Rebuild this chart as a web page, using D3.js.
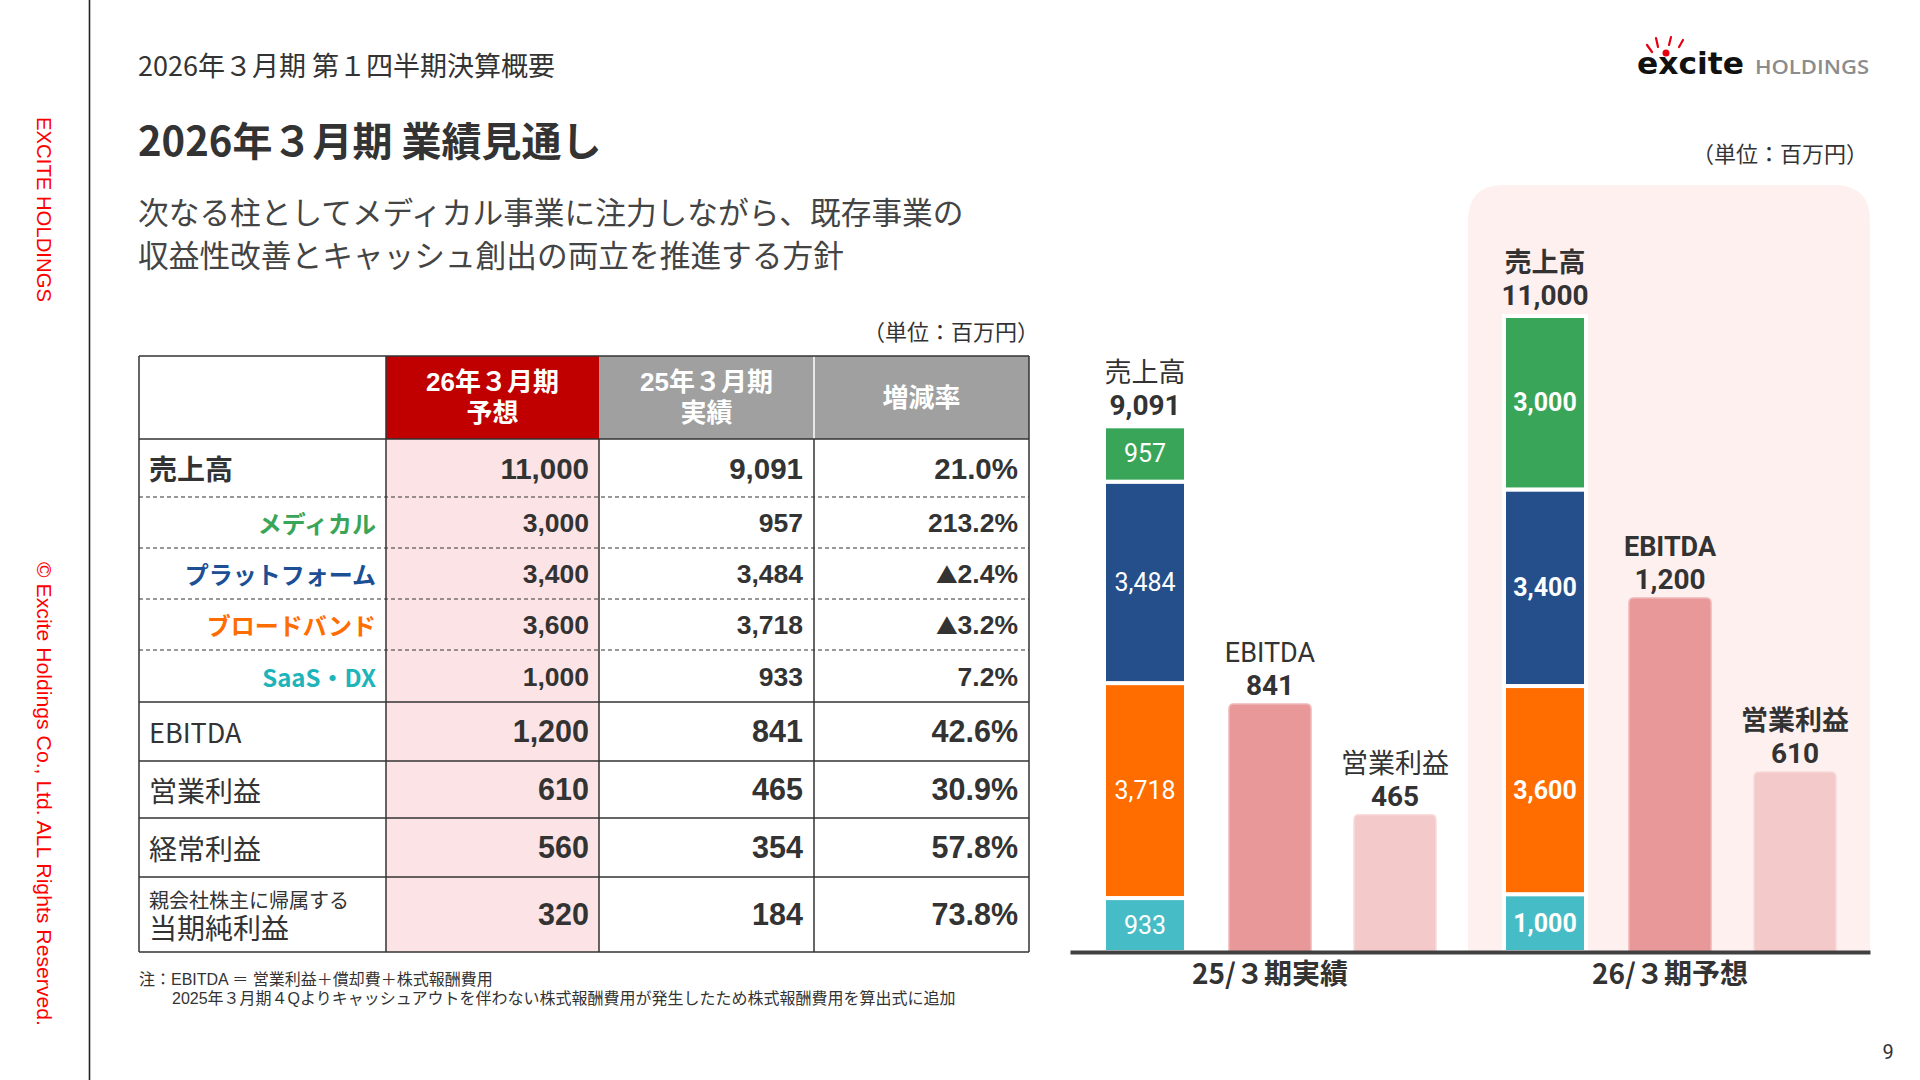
<!DOCTYPE html>
<html>
<head>
<meta charset="utf-8">
<script src="https://cdn.jsdelivr.net/npm/d3@7"></script>
<style>
  html, body { margin: 0; padding: 0; background: #ffffff; }
  svg { display: block; }
</style>
</head>
<body>
<svg id="slide" width="1920" height="1080"></svg>
<script>
// ---------------- DATA ----------------
const rowLabels = ['売上高', 'メディカル', 'プラットフォーム', 'ブロードバンド', 'SaaS・DX', 'EBITDA', '営業利益', '経常利益', '親会社株主に帰属する\n当期純利益'];
const forecast26 = [11000, 3000, 3400, 3600, 1000, 1200, 610, 560, 320];
const actual25 = [9091, 957, 3484, 3718, 933, 841, 465, 354, 184];
const changeRate = ['21.0%', '213.2%', '▲2.4%', '▲3.2%', '7.2%', '42.6%', '30.9%', '57.8%', '73.8%'];
const tableHeaders = [['26年３月期', '予想'], ['25年３月期', '実績'], ['増減率']];

const periods = ['25/３期実績', '26/３期予想'];
const segmentKeys = ['SaaS・DX', 'ブロードバンド', 'プラットフォーム', 'メディカル']; // bottom -> top
const salesTotal = [9091, 11000];
const ebitdaValues = [841, 1200];
const operatingProfit = [465, 610];
const segmentByPeriod = {
  'SaaS・DX': [933, 1000],
  'ブロードバンド': [3718, 3600],
  'プラットフォーム': [3484, 3400],
  'メディカル': [957, 3000]
};

// ---------------- STYLE ----------------
const JP = "'Noto Sans CJK JP', 'Noto Sans', sans-serif";
const JPT = "'Liberation Sans', 'Noto Sans CJK JP', sans-serif"; // tight line box for stacked lines
const NUM = "'Liberation Sans', Arial, 'Noto Sans CJK JP', sans-serif";
const CH = "Roboto, 'Noto Sans CJK JP', sans-serif";
const TXT = '#333333';
const segColors = {'SaaS・DX': '#46bdc6', 'ブロードバンド': '#ff6c00', 'プラットフォーム': '#254f8b', 'メディカル': '#39a558'};
const labelColors = ['#333333', '#39a558', '#1c4f93', '#ff6c00', '#1db4ba', '#333333', '#333333', '#333333', '#333333'];

const svg = d3.select('#slide');

// ---------------- FRAME ----------------
svg.append('line').attr('x1', 89.5).attr('x2', 89.5).attr('y1', 0).attr('y2', 1080)
  .attr('stroke', '#222').attr('stroke-width', 1.6);

svg.append('text').attr('transform', 'translate(37,117) rotate(90)')
  .attr('font-family', "'Liberation Sans', Arial, sans-serif").attr('font-size', 21)
  .attr('fill', '#ff0000').attr('textLength', 185).attr('lengthAdjust', 'spacingAndGlyphs')
  .text('EXCITE HOLDINGS');
svg.append('text').attr('transform', 'translate(37,562) rotate(90)')
  .attr('font-family', "'Liberation Sans', Arial, sans-serif").attr('font-size', 21)
  .attr('fill', '#ff0000').attr('textLength', 464).attr('lengthAdjust', 'spacingAndGlyphs')
  .text('© Excite Holdings Co., Ltd. ALL Rights Reserved.');

svg.append('text').attr('x', 138).attr('y', 64).attr('dominant-baseline', 'central')
  .attr('font-family', JP).attr('font-size', 27).attr('fill', TXT)
  .text('2026年３月期 第１四半期決算概要');
svg.append('text').attr('x', 138).attr('y', 139).attr('dominant-baseline', 'central')
  .attr('font-family', JP).attr('font-size', 40).attr('font-weight', 700).attr('fill', TXT)
  .text('2026年３月期 業績見通し');
const sub = svg.append('text').attr('font-family', JP).attr('font-size', 30.7).attr('fill', '#444');
['次なる柱としてメディカル事業に注力しながら、既存事業の', '収益性改善とキャッシュ創出の両立を推進する方針'].forEach((t, i) => {
  sub.append('tspan').attr('x', 138).attr('y', 224 + i * 43).text(t);
});

// Logo
const logo = svg.append('g');
logo.append('text').attr('x', 1637).attr('y', 74).attr('font-family', "'DejaVu Sans', sans-serif")
  .attr('font-weight', 700).attr('font-size', 31).attr('fill', '#111')
  .attr('textLength', 107).attr('lengthAdjust', 'spacingAndGlyphs').text('excite');
logo.append('text').attr('x', 1755).attr('y', 74).attr('font-family', "'Open Sans', sans-serif")
  .attr('font-weight', 600).attr('font-size', 19.5).attr('fill', '#8c8c8c')
  .attr('textLength', 114).attr('lengthAdjust', 'spacingAndGlyphs').text('HOLDINGS');
[[1647, 45, 1652, 52], [1656, 38, 1658, 47], [1671, 37, 1669, 45], [1683, 40, 1679, 47]].forEach(s => {
  logo.append('line').attr('x1', s[0]).attr('y1', s[1]).attr('x2', s[2]).attr('y2', s[3])
    .attr('stroke', '#e60012').attr('stroke-width', 2.2).attr('stroke-linecap', 'round');
});
logo.append('circle').attr('cx', 1666).attr('cy', 53).attr('r', 3.5).attr('fill', '#e60012');

// unit labels
svg.append('text').attr('x', 1039).attr('y', 330).attr('text-anchor', 'end').attr('dominant-baseline', 'central')
  .attr('font-family', JP).attr('font-size', 22).attr('fill', TXT).text('（単位：百万円）');
svg.append('text').attr('x', 1868).attr('y', 152).attr('text-anchor', 'end').attr('dominant-baseline', 'central')
  .attr('font-family', JP).attr('font-size', 22).attr('fill', TXT).text('（単位：百万円）');

// ---------------- TABLE ----------------
const colEdges = [139, 386, 599, 814, 1029];
const headerTop = 356, headerBottom = 439;
const rowHeights = [58, 51, 51, 51, 52, 59, 57, 59, 75];
const rowEdges = [headerBottom];
rowHeights.forEach(h => rowEdges.push(rowEdges[rowEdges.length - 1] + h));
const tableBottom = rowEdges[rowEdges.length - 1];
const table = svg.append('g');

table.append('rect').attr('x', colEdges[1]).attr('y', headerTop).attr('width', colEdges[2] - colEdges[1])
  .attr('height', headerBottom - headerTop).attr('fill', '#c00000');
table.append('rect').attr('x', colEdges[2]).attr('y', headerTop).attr('width', colEdges[4] - colEdges[2])
  .attr('height', headerBottom - headerTop).attr('fill', '#a0a0a0');
table.append('line').attr('x1', colEdges[3]).attr('x2', colEdges[3]).attr('y1', headerTop).attr('y2', headerBottom)
  .attr('stroke', '#fff').attr('stroke-width', 1.5);
table.append('rect').attr('x', colEdges[1]).attr('y', headerBottom).attr('width', colEdges[2] - colEdges[1])
  .attr('height', tableBottom - headerBottom).attr('fill', '#fce4e6');

tableHeaders.forEach((lines, c) => {
  const cx = (colEdges[c + 1] + colEdges[c + 2]) / 2;
  const cy = (headerTop + headerBottom) / 2;
  const t = table.append('text').attr('text-anchor', 'middle')
    .attr('font-family', JPT).attr('font-size', 26).attr('font-weight', 700).attr('fill', '#fff');
  lines.forEach((s, j) => {
    t.append('tspan').attr('x', cx).attr('y', cy + 9 + (j - (lines.length - 1) / 2) * 30.5).text(s);
  });
});

// horizontal lines
table.append('line').attr('x1', colEdges[0]).attr('x2', colEdges[4]).attr('y1', headerTop).attr('y2', headerTop)
  .attr('stroke', '#333').attr('stroke-width', 1.5);
rowEdges.forEach((y, i) => {
  const dashed = i >= 1 && i <= 4;
  table.append('line').attr('x1', colEdges[0]).attr('x2', colEdges[4]).attr('y1', y).attr('y2', y)
    .attr('stroke', '#333').attr('stroke-width', dashed ? 1.1 : 1.5)
    .attr('stroke-dasharray', dashed ? '4,3' : null);
});
// vertical lines
[[colEdges[0], headerTop], [colEdges[1], headerTop], [colEdges[2], headerBottom], [colEdges[3], headerBottom], [colEdges[4], headerTop]]
  .forEach(([x, y0]) => {
    table.append('line').attr('x1', x).attr('x2', x).attr('y1', y0).attr('y2', tableBottom)
      .attr('stroke', '#333').attr('stroke-width', 1.5);
  });

const numSize = i => (i === 0 ? 29.5 : (i <= 4 ? 26.5 : 30.5));
rowLabels.forEach((label, i) => {
  const cy = (rowEdges[i] + rowEdges[i + 1]) / 2;
  if (i >= 1 && i <= 4) {
    table.append('text').attr('x', colEdges[1] - 10).attr('y', cy).attr('text-anchor', 'end')
      .attr('dominant-baseline', 'central').attr('font-family', JP).attr('font-size', 24)
      .attr('font-weight', 700).attr('fill', labelColors[i]).text(label);
  } else if (label.includes('\n')) {
    const parts = label.split('\n');
    const t = table.append('text').attr('font-family', JPT).attr('fill', TXT);
    t.append('tspan').attr('x', 149).attr('y', cy - 7).attr('font-size', 20).text(parts[0]);
    t.append('tspan').attr('x', 149).attr('y', cy + 24).attr('font-size', 28).text(parts[1]);
  } else {
    table.append('text').attr('x', 149).attr('y', cy).attr('dominant-baseline', 'central')
      .attr('font-family', JP).attr('font-size', i === 5 ? 27 : 28).attr('font-weight', i === 0 ? 700 : 400)
      .attr('fill', TXT).text(label);
  }
  const vals = [d3.format(',')(forecast26[i]), d3.format(',')(actual25[i]), changeRate[i]];
  const rights = [colEdges[2] - 10, colEdges[3] - 11, colEdges[4] - 11];
  vals.forEach((v, c) => {
    const t = table.append('text').attr('x', rights[c]).attr('y', cy + numSize(i) * 0.36).attr('text-anchor', 'end')
      .attr('font-family', NUM).attr('font-size', numSize(i)).attr('font-weight', 700)
      .attr('fill', TXT);
    if (v.startsWith('▲')) {
      t.append('tspan').attr('font-family', JP).attr('font-size', numSize(i) * 0.82).text('▲');
      t.append('tspan').text(v.slice(1));
    } else {
      t.text(v);
    }
  });
});

const note = svg.append('text').attr('font-family', JPT).attr('font-size', 16).attr('fill', TXT);
note.append('tspan').attr('x', 139).attr('y', 985).text('注：EBITDA ＝ 営業利益＋償却費＋株式報酬費用');
note.append('tspan').attr('x', 172).attr('y', 1004)
  .text('2025年３月期４Qよりキャッシュアウトを伴わない株式報酬費用が発生したため株式報酬費用を算出式に追加');

svg.append('text').attr('x', 1888).attr('y', 1052).attr('text-anchor', 'middle').attr('dominant-baseline', 'central')
  .attr('font-family', CH).attr('font-size', 20).attr('fill', TXT).text('9');

// ---------------- CHART ----------------
const baseY = 952;
const chart = svg.append('g');

// forecast panel
const pX0 = 1468, pX1 = 1870, pY0 = 185, pr = 36;
chart.append('path')
  .attr('d', `M${pX0},${baseY} V${pY0 + pr} Q${pX0},${pY0} ${pX0 + pr},${pY0} H${pX1 - pr} Q${pX1},${pY0} ${pX1},${pY0 + pr} V${baseY} Z`)
  .attr('fill', '#fff0f0');

const x0 = d3.scaleBand().domain(periods).range([1070, 1870]);
const x1 = d3.scaleBand().domain(['sales', 'ebitda', 'op']).range([0, x0.bandwidth()])
  .paddingInner(0.344).paddingOuter(0.272);
const yRev = d3.scaleLinear().domain([0, 11000]).range([baseY, baseY - 636]);
const yProfit = d3.scaleLinear().domain([0, 1200]).range([baseY, baseY - 354]);

const stackData = periods.map((p, i) => {
  const o = {period: p};
  segmentKeys.forEach(k => { o[k] = segmentByPeriod[k][i]; });
  return o;
});
const series = d3.stack().keys(segmentKeys)(stackData);

series.forEach(s => {
  s.forEach((d, i) => {
    const x = x0(d.data.period) + x1('sales');
    const yTop = yRev(d[1]), yBot = yRev(d[0]);
    chart.append('rect').attr('x', x).attr('y', yTop).attr('width', x1.bandwidth()).attr('height', yBot - yTop)
      .attr('fill', segColors[s.key]).attr('stroke', '#fff').attr('stroke-width', 4);
    chart.append('text').attr('x', x + x1.bandwidth() / 2).attr('y', (yTop + yBot) / 2)
      .attr('text-anchor', 'middle').attr('dominant-baseline', 'central')
      .attr('font-family', CH).attr('font-size', 25).attr('font-weight', i === 1 ? 700 : 400)
      .attr('fill', '#fff').text(d3.format(',')(d.data[s.key]));
  });
});

function roundTop(x, y, w, h, r) {
  return `M${x},${y + h} V${y + r} Q${x},${y} ${x + r},${y} H${x + w - r} Q${x + w},${y} ${x + w},${y + r} V${y + h} Z`;
}

const profitBars = [
  {key: 'ebitda', name: 'EBITDA', values: ebitdaValues, fill: '#e9989a', stroke: '#f0b4b5'},
  {key: 'op', name: '営業利益', values: operatingProfit, fill: '#f4c9ca', stroke: '#f8dada'}
];
profitBars.forEach(b => {
  periods.forEach((p, i) => {
    const x = x0(p) + x1(b.key);
    const yTop = yProfit(b.values[i]);
    chart.append('path').attr('d', roundTop(x, yTop, x1.bandwidth(), baseY - yTop, 5))
      .attr('fill', b.fill).attr('stroke', b.stroke).attr('stroke-width', 1.5);
  });
});

// top labels
const topLabels = [];
periods.forEach((p, i) => {
  topLabels.push({x: x0(p) + x1('sales') + x1.bandwidth() / 2, top: yRev(salesTotal[i]) - 2, name: '売上高', value: salesTotal[i], bold: i === 1});
  profitBars.forEach(b => {
    topLabels.push({x: x0(p) + x1(b.key) + x1.bandwidth() / 2, top: yProfit(b.values[i]), name: b.name, value: b.values[i], bold: i === 1});
  });
});
topLabels.forEach(l => {
  const t = chart.append('text').attr('text-anchor', 'middle').attr('font-family', CH).attr('fill', TXT);
  t.append('tspan').attr('x', l.x).attr('y', l.top - 42).attr('font-size', 27).attr('font-weight', l.bold ? 700 : 400).text(l.name);
  t.append('tspan').attr('x', l.x).attr('y', l.top - 9).attr('font-size', 28).attr('font-weight', 700).text(d3.format(',')(l.value));
});

// axis
const axis = chart.append('g').attr('transform', `translate(0,${baseY})`)
  .call(d3.axisBottom(x0).tickSize(0).tickSizeOuter(0).tickPadding(12));
axis.select('.domain').attr('stroke', '#404040').attr('stroke-width', 4);
axis.selectAll('text').attr('font-family', JP).attr('font-size', 28).attr('font-weight', 700).attr('fill', TXT);
</script>
</body>
</html>
